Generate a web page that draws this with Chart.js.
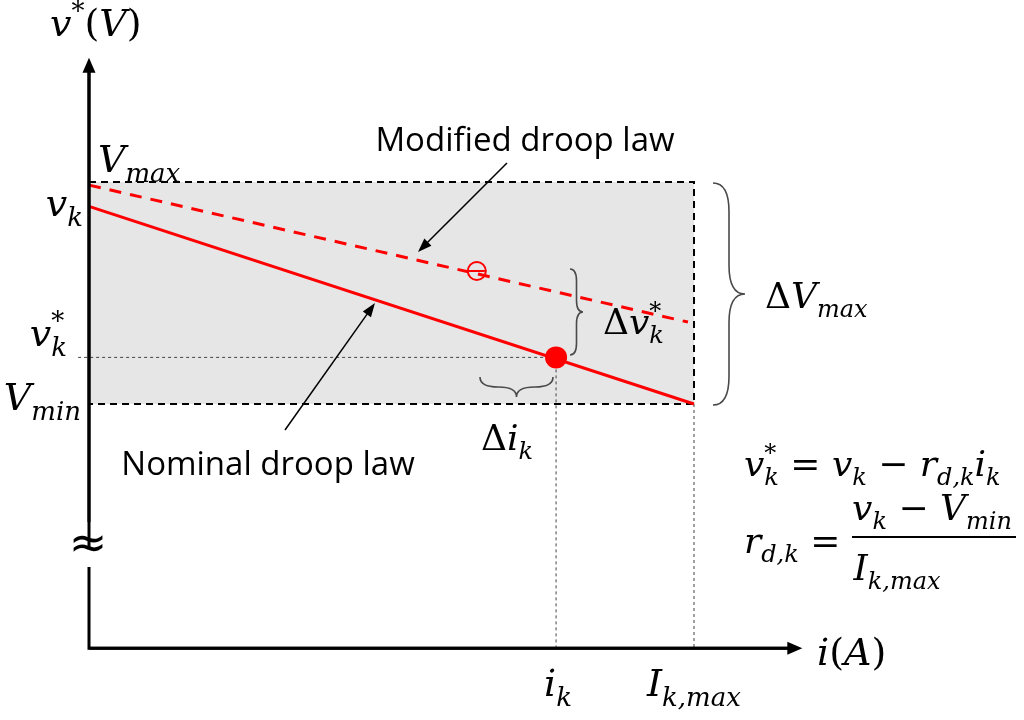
<!DOCTYPE html>
<html><head><meta charset="utf-8">
<script src="https://cdn.jsdelivr.net/npm/chart.js@4"></script>
<style>html,body{margin:0;padding:0;background:#fff}canvas{display:block}</style>
</head><body>
<canvas id="c" width="1024" height="720"></canvas>
<script>
// ---- data (normalised units) ----
const iK = 0.772;          // operating current i_k
const iKmax = 1.0;         // I_k,max
const vMax = 1.05;         // V_max
const vK = 1.039;          // v_k (no-load set point)
const vKstar = 0.971;      // v_k* (operating voltage)
const vMin = 0.95;         // V_min
const nominalI = [0, iKmax];
const nominalV = [vK, vMin];
const modifiedI = [0, 0.990];
const modifiedV = [1.0486, 0.9869];
const modifiedMarkI = [0.641];
const modifiedMarkV = [1.0099];
const boxI = [0, iKmax, iKmax, 0];
const boxV = [vMax, vMax, vMin, vMin];
const axisV0 = 0.840;      // level of the i-axis (broken v-axis)
const axisBreakV = [0.8766, 0.8968];
const axisTopV = 1.106;
const axisRightI = 1.179;
const guideStartI = -0.018;
const xTickValues = [iK, iKmax];
const xTickLabels = [[['i','i'],['k','b']], [['I','i'],['k,max','b']]];

// ---- math text helper ----
const SERIF = '"DejaVu Serif"';
function mathParts(ctx, parts, size) {
  const sub = Math.round(size * 0.68);
  const items = []; let w = 0;
  for (const [t, k] of parts) {
    let font, dy = 0;
    if (k === 'i') font = `italic ${size}px ${SERIF}`;
    else if (k === 'r') font = `${size}px ${SERIF}`;
    else if (k === 'b') { font = `italic ${sub}px ${SERIF}`; dy = size * 0.26; }
    else if (k === 'p') { font = `${sub}px ${SERIF}`; dy = -size * 0.42; }
    ctx.font = font;
    const tw = ctx.measureText(t).width;
    items.push({t, font, dy, x: w, k});
    if (k === 'p' && items.length > 1 && items[items.length - 2].k === 'b') {
      const prev = items[items.length - 2];
      items[items.length - 1].x = prev.x;
      w = prev.x + Math.max(prev.w, tw);
    } else w += tw;
    items[items.length - 1].w = tw;
  }
  return {items, w};
}
function drawMath(ctx, x, y, parts, size, align) {
  const {items, w} = mathParts(ctx, parts, size);
  let x0 = x;
  if (align === 'center') x0 = x - w / 2; else if (align === 'right') x0 = x - w;
  ctx.textAlign = 'left'; ctx.textBaseline = 'alphabetic'; ctx.fillStyle = '#000';
  for (const it of items) { ctx.font = it.font; ctx.fillText(it.t, x0 + it.x, y + it.dy); }
  return w;
}
function arrow(ctx, x1, y1, x2, y2, lw, hl, hw) {
  const a = Math.atan2(y2 - y1, x2 - x1);
  ctx.save(); ctx.strokeStyle = '#000'; ctx.fillStyle = '#000'; ctx.lineWidth = lw; ctx.setLineDash([]);
  ctx.beginPath(); ctx.moveTo(x1, y1); ctx.lineTo(x2 - hl * 0.8 * Math.cos(a), y2 - hl * 0.8 * Math.sin(a)); ctx.stroke();
  ctx.beginPath(); ctx.moveTo(x2, y2);
  ctx.lineTo(x2 - hl * Math.cos(a) + hw / 2 * Math.sin(a), y2 - hl * Math.sin(a) - hw / 2 * Math.cos(a));
  ctx.lineTo(x2 - hl * Math.cos(a) - hw / 2 * Math.sin(a), y2 - hl * Math.sin(a) + hw / 2 * Math.cos(a));
  ctx.closePath(); ctx.fill(); ctx.restore();
}
function brace(ctx, px, py, qx, qy, d) {
  const L = Math.hypot(qx - px, qy - py);
  const ax = (qx - px) / L, ay = (qy - py) / L;
  const nx = -ay, ny = ax; // depth direction
  const P = (u, w) => [px + u * ax + w * nx, py + u * ay + w * ny];
  const m = L / 2, r = Math.min(Math.abs(d) * 0.9, L / 4), h = d / 2;
  ctx.save(); ctx.strokeStyle = '#4a4a4a'; ctx.lineWidth = 1.6; ctx.setLineDash([]);
  ctx.beginPath();
  ctx.moveTo(...P(0, 0));
  ctx.quadraticCurveTo(...P(0, h), ...P(r, h));
  ctx.lineTo(...P(m - r, h));
  ctx.quadraticCurveTo(...P(m, h), ...P(m, d));
  ctx.quadraticCurveTo(...P(m, h), ...P(m + r, h));
  ctx.lineTo(...P(L - r, h));
  ctx.quadraticCurveTo(...P(L, h), ...P(L, 0));
  ctx.stroke(); ctx.restore();
}

const pts = (xs, ys) => xs.map((x, i) => ({x, y: ys[i]}));

const shadePlugin = {
  id: 'shade',
  beforeDatasetsDraw(chart) {
    const {ctx, scales: {x, y}} = chart;
    ctx.save(); ctx.fillStyle = '#e6e6e6';
    const l = x.getPixelForValue(Math.min(...boxI)), r = x.getPixelForValue(Math.max(...boxI));
    const t = y.getPixelForValue(Math.max(...boxV)), b = y.getPixelForValue(Math.min(...boxV));
    ctx.fillRect(l, t, r - l, b - t); ctx.restore();
  }
};

const annoPlugin = {
  id: 'anno',
  afterDatasetsDraw(chart) {
    const {ctx, scales: {x, y}} = chart;
    const X = v => x.getPixelForValue(v), Y = v => y.getPixelForValue(v);
    const x0 = X(0), y0 = Y(axisV0);
    // axes
    ctx.save(); ctx.strokeStyle = '#000'; ctx.lineWidth = 3; ctx.setLineDash([]); ctx.lineCap = 'butt';
    ctx.beginPath();
    ctx.moveTo(x0, Y(axisBreakV[1])); ctx.lineTo(x0, Y(axisTopV) + 12);
    ctx.moveTo(x0, Y(axisBreakV[0])); ctx.lineTo(x0, y0 + 1.5); 
    ctx.moveTo(x0 - 1.5, y0); ctx.lineTo(X(axisRightI) - 12, y0);
    ctx.stroke(); ctx.restore();
    arrow(ctx, x0, y0, X(axisRightI), y0, 3, 15, 13);
    arrow(ctx, x0, y0 - 100, x0, Y(axisTopV), 3, 15, 13);
    // break symbol
    ctx.fillStyle = '#000'; ctx.font = `46px "DejaVu Sans"`; ctx.textAlign = 'center'; ctx.textBaseline = 'middle';
    ctx.fillText('\u2248', x0 - 1, (Y(axisBreakV[0]) + Y(axisBreakV[1])) / 2 + 2);

    // axis labels
    drawMath(ctx, 50, 36, [['v','i'],['*','p'],['(','r'],['V','i'],[')','r']], 38, 'left');
    drawMath(ctx, 817, 665, [['i','i'],['(','r'],['A','i'],[')','r']], 38, 'left');
    xTickValues.forEach((v, i) => drawMath(ctx, X(v) + (i ? 0 : 2), 696, xTickLabels[i], 38, 'center'));

    // level labels
    drawMath(ctx, x0 + 9, Y(vMax) - 10, [['V','i'],['max','b']], 38, 'left');
    drawMath(ctx, x0 - 6, Y(vK) + 10, [['v','i'],['k','b']], 38, 'right');
    drawMath(ctx, x0 - 22, Y(vKstar) - 11, [['v','i'],['k','b'],['*','p']], 38, 'right');
    drawMath(ctx, x0 - 8, Y(vMin) + 6, [['V','i'],['min','b']], 38, 'right');

    // braces and deltas
    brace(ctx, 570, 269, 570, 355, -13);
    drawMath(ctx, 603, 334, [['\u0394','r'],['v','i'],['k','b'],['*','p']], 36, 'left');
    brace(ctx, 553, 377, 480, 377, -20);
    drawMath(ctx, 507, 450, [['\u0394','r'],['i','i'],['k','b']], 36, 'center');
    brace(ctx, 713, 183, 713, 405, -32);
    drawMath(ctx, 765, 308, [['\u0394','r'],['V','i'],['max','b']], 36, 'left');

    // droop law labels
    ctx.fillStyle = '#000'; ctx.textBaseline = 'alphabetic'; ctx.textAlign = 'center';
    ctx.font = '33px "Open Sans"';
    ctx.fillText('Modified droop law', 525, 151);
    ctx.fillText('Nominal droop law', 268, 475);
    arrow(ctx, 507, 163, 418, 252, 1.5, 14, 10);
    arrow(ctx, 285, 430, 375, 303, 1.5, 14, 10);

    // equations
    drawMath(ctx, 744, 476, [['v','i'],['k','b'],['*','p'],[' = ','r'],['v','i'],['k','b'],[' \u2212 ','r'],['r','i'],['d,k','b'],['i','i'],['k','b']], 36, 'left');
    drawMath(ctx, 744, 553, [['r','i'],['d,k','b'],[' =','r']], 36, 'left');
    drawMath(ctx, 932, 520, [['v','i'],['k','b'],[' \u2212 ','r'],['V','i'],['min','b']], 36, 'center');
    ctx.save(); ctx.strokeStyle = '#000'; ctx.lineWidth = 2; ctx.beginPath(); ctx.moveTo(852, 537); ctx.lineTo(1016, 537); ctx.stroke(); ctx.restore();
    drawMath(ctx, 897, 580, [['I','i'],['k,max','b']], 36, 'center');
  }
};

const dotted = {borderColor: '#444', borderWidth: 1, borderDash: [3, 3], pointRadius: 0, fill: false};
new Chart(document.getElementById('c'), {
  type: 'line',
  data: {datasets: [
    {label: 'operating point', data: pts([iK], [vKstar]), showLine: false, pointRadius: 11, pointHoverRadius: 11, pointBackgroundColor: '#ff0000', pointBorderWidth: 0, pointBorderColor: '#ff0000', order: 0},
    {label: 'modified mark', data: pts(modifiedMarkI, modifiedMarkV), showLine: false, pointRadius: 9, pointHoverRadius: 9, pointBorderColor: '#ff0000', pointBackgroundColor: 'rgba(0,0,0,0)', pointBorderWidth: 2, order: 1},
    {label: 'modified mark minus', data: pts(modifiedMarkI, modifiedMarkV), showLine: false, pointStyle: 'line', pointRadius: 8, pointHoverRadius: 8, pointBorderColor: '#ff0000', pointBorderWidth: 2, order: 1},
    {label: 'nominal', data: pts(nominalI, nominalV), borderColor: '#ff0000', borderWidth: 3, pointRadius: 0, order: 2},
    {label: 'modified', data: pts(modifiedI, modifiedV), borderColor: '#ff0000', borderWidth: 3, borderDash: [12, 9], pointRadius: 0, order: 2},
    Object.assign({label: 'guide v*', data: pts([guideStartI, iK], [vKstar, vKstar]), order: 3}, dotted),
    Object.assign({label: 'guide ik', data: pts([iK, iK], [vKstar, axisV0]), order: 3}, dotted),
    Object.assign({label: 'guide Imax', data: pts([iKmax, iKmax], [vMin, axisV0]), order: 3}, dotted),
    {label: 'box', data: pts(boxI.concat([0]), boxV.concat([vMax])), borderColor: '#000', borderWidth: 2, borderDash: [7, 5], pointRadius: 0, fill: false, order: 5}
  ]},
  options: {
    responsive: false, animation: false, events: [],
    layout: {padding: 0},
    plugins: {legend: {display: false}, tooltip: {enabled: false}},
    scales: {
      x: {type: 'linear', display: false, min: -0.128926, max: 1.527273},
      y: {type: 'linear', display: false, min: 0.812613, max: 1.127027}
    }
  },
  plugins: [shadePlugin, annoPlugin]
});
</script>
</body></html>
